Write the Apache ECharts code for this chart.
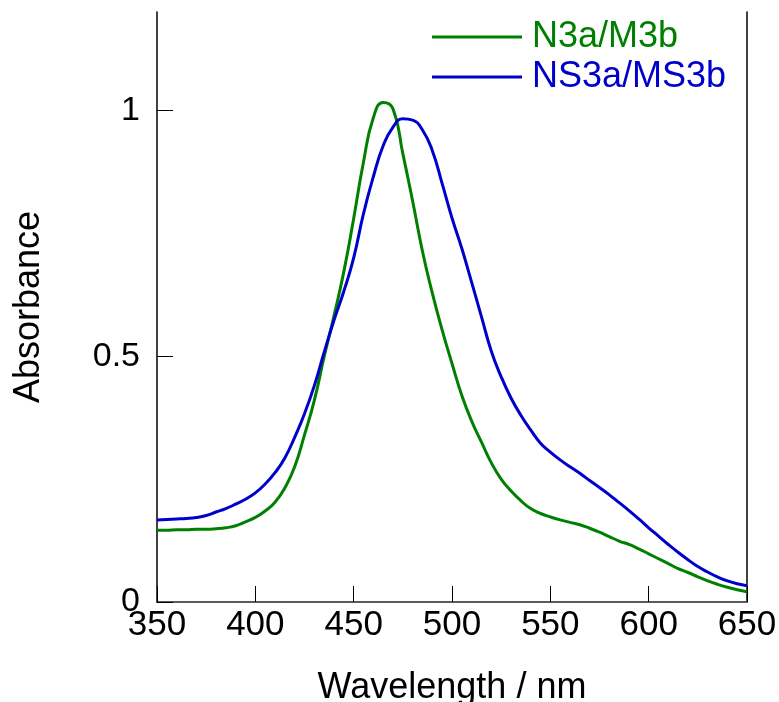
<!DOCTYPE html>
<html>
<head>
<meta charset="utf-8">
<script src="https://cdn.jsdelivr.net/npm/echarts@6/dist/echarts.min.js"></script>
<style>
  html, body { margin: 0; padding: 0; background: #fff; }
  #chart { width: 779px; height: 702px; }
</style>
</head>
<body>
<div id="chart"></div>
<script>
// wavelength (nm)
var wavelengths = [350, 355, 360, 365, 370, 375, 380, 385, 390, 395,
    400, 405, 410, 415, 420, 425, 430, 435, 440, 445,
    450, 455, 460, 465, 470, 475, 480, 485, 490, 495,
    500, 505, 510, 515, 520, 525, 530, 535, 540, 545,
    550, 555, 560, 565, 570, 575, 580, 585, 590, 595,
    600, 605, 610, 615, 620, 625, 630, 635, 640, 645, 650];

// N3a/M3b
var greenAbs = [0.146, 0.146, 0.147, 0.147, 0.148, 0.148, 0.149, 0.151, 0.155, 0.163,
    0.172, 0.185, 0.203, 0.232, 0.275, 0.340, 0.410, 0.499, 0.582, 0.672,
    0.780, 0.895, 0.985, 1.016, 1.003, 0.912, 0.815, 0.713, 0.628, 0.553,
    0.485, 0.420, 0.368, 0.325, 0.283, 0.250, 0.226, 0.206, 0.190, 0.180,
    0.173, 0.167, 0.162, 0.157, 0.150, 0.142, 0.133, 0.124, 0.117, 0.108,
    0.098, 0.088, 0.078, 0.068, 0.060, 0.051, 0.043, 0.036, 0.030, 0.025, 0.021];

// NS3a/MS3b
var blueAbs = [0.167, 0.168, 0.169, 0.170, 0.172, 0.176, 0.183, 0.190, 0.199, 0.209,
    0.222, 0.240, 0.263, 0.293, 0.335, 0.383, 0.440, 0.508, 0.573, 0.632,
    0.700, 0.790, 0.865, 0.928, 0.966, 0.983, 0.980, 0.960, 0.918, 0.851,
    0.781, 0.719, 0.650, 0.580, 0.510, 0.458, 0.415, 0.380, 0.350, 0.323,
    0.305, 0.289, 0.275, 0.262, 0.247, 0.233, 0.218, 0.202, 0.186, 0.169,
    0.151, 0.134, 0.117, 0.101, 0.086, 0.072, 0.061, 0.051, 0.043, 0.037, 0.033];

var seriesNames = ['N3a/M3b', 'NS3a/MS3b'];
var seriesColors = ['#008000', '#0000cc'];

var font = 'Liberation Sans, Arial, sans-serif';

var pairs = function (xs, ys) {
    var out = [];
    for (var i = 0; i < xs.length; i++) {
        out.push([xs[i], ys[i]]);
    }
    return out;
};

var chart = echarts.init(document.getElementById('chart'), null, { renderer: 'canvas' });

var option = {
    animation: false,
    backgroundColor: '#fff',
    grid: { left: 157, right: 32, top: 12, bottom: 100, containLabel: false, outerBoundsMode: 'none' },
    legend: {
        orient: 'vertical',
        left: 432,
        top: 19,
        padding: 0,
        icon: 'rect',
        itemWidth: 90,
        itemHeight: 3,
        itemGap: 4,
        textStyle: { fontFamily: font, fontSize: 36, padding: [0, 0, 0, 5] },
        data: [
            { name: seriesNames[0], textStyle: { color: seriesColors[0] } },
            { name: seriesNames[1], textStyle: { color: seriesColors[1] } }
        ]
    },
    xAxis: [{
        type: 'value',
        min: 350,
        max: 650,
        interval: 50,
        position: 'bottom',
        name: 'Wavelength / nm',
        nameLocation: 'middle',
        nameGap: 68,
        nameTextStyle: { fontFamily: font, fontSize: 36, color: '#000' },
        axisLine: { lineStyle: { color: '#000', width: 1.5 } },
        axisTick: { inside: true, length: 16, lineStyle: { color: '#000', width: 1 } },
        axisLabel: { margin: 6, fontFamily: font, fontSize: 35, color: '#000', showMinLabel: true, showMaxLabel: true },
        splitLine: { show: false }
    }, {
        type: 'value',
        min: 350,
        max: 650,
        position: 'top',
        axisLine: { lineStyle: { color: '#666', width: 1.5 } },
        axisTick: { show: false },
        axisLabel: { show: false },
        splitLine: { show: false }
    }],
    yAxis: [{
        type: 'value',
        min: 0,
        max: 1.2,
        interval: 0.5,
        position: 'left',
        name: 'Absorbance',
        nameLocation: 'middle',
        nameGap: 110,
        nameTextStyle: { fontFamily: font, fontSize: 36, color: '#000' },
        axisLine: { show: true, lineStyle: { color: '#000', width: 1.5 } },
        axisTick: { inside: true, length: 16, lineStyle: { color: '#000', width: 1 } },
        axisLabel: {
            margin: 17,
            fontFamily: font,
            fontSize: 34,
            color: '#000',
            showMaxLabel: false,
            formatter: function (v) { return String(v); }
        },
        splitLine: { show: false }
    }, {
        type: 'value',
        min: 0,
        max: 1.2,
        position: 'right',
        axisLine: { show: true, lineStyle: { color: '#000', width: 1.5 } },
        axisTick: { show: false },
        axisLabel: { show: false },
        splitLine: { show: false }
    }],
    series: [{
        name: seriesNames[0],
        type: 'line',
        smooth: true,
        showSymbol: false,
        symbol: 'none',
        color: seriesColors[0],
        lineStyle: { color: seriesColors[0], width: 3 },
        data: pairs(wavelengths, greenAbs)
    }, {
        name: seriesNames[1],
        type: 'line',
        smooth: true,
        showSymbol: false,
        symbol: 'none',
        color: seriesColors[1],
        lineStyle: { color: seriesColors[1], width: 3 },
        data: pairs(wavelengths, blueAbs)
    }]
};

chart.setOption(option);
</script>
</body>
</html>
